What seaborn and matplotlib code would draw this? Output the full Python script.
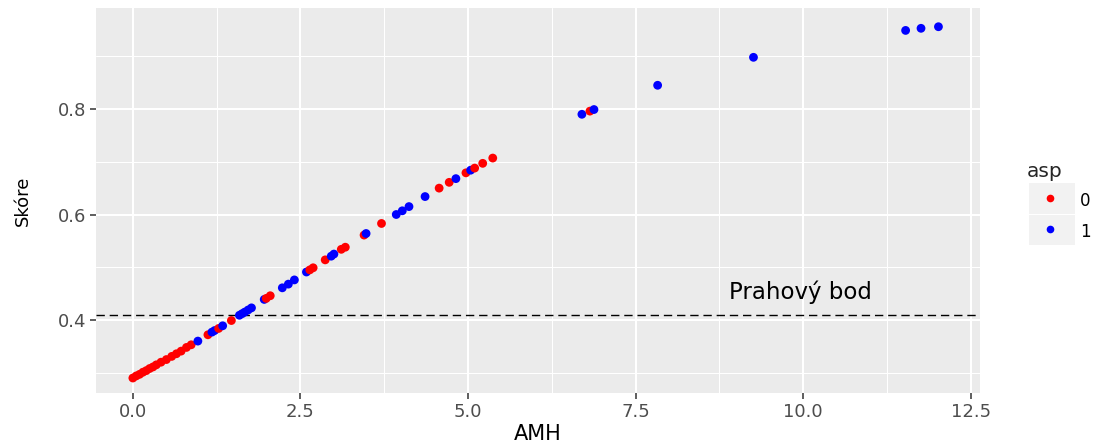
import matplotlib
matplotlib.use("Agg")
import matplotlib.pyplot as plt
import seaborn as sns
import pandas as pd
from matplotlib.ticker import FixedLocator
from matplotlib.patches import Rectangle
from matplotlib.lines import Line2D

# ---- data ----
amh = [0.00, 0.05, 0.10, 0.15, 0.20, 0.25, 0.30, 0.35, 0.42, 0.50, 0.58, 0.65, 0.72, 0.80, 0.87,
       0.97, 1.12, 1.18, 1.22, 1.28, 1.34, 1.47, 1.59, 1.63, 1.67, 1.72, 1.77,
       1.96, 1.99, 2.05, 2.23, 2.32, 2.41, 2.59, 2.64, 2.69, 2.87, 2.96, 3.00, 3.11, 3.17,
       3.45, 3.48, 3.71, 3.93, 4.02, 4.12, 4.36, 4.57, 4.72, 4.82, 4.97, 5.04, 5.10, 5.22, 5.37,
       6.70, 6.82, 6.88, 7.83, 9.26, 11.53, 11.76, 12.02]
skore = [0.290, 0.294, 0.297, 0.301, 0.304, 0.308, 0.311, 0.315, 0.320, 0.325, 0.331, 0.336, 0.341, 0.348, 0.353,
         0.360, 0.372, 0.377, 0.380, 0.384, 0.389, 0.399, 0.409, 0.412, 0.415, 0.419, 0.423,
         0.439, 0.441, 0.446, 0.461, 0.468, 0.476, 0.491, 0.495, 0.499, 0.514, 0.521, 0.525, 0.534, 0.538,
         0.561, 0.564, 0.583, 0.600, 0.607, 0.615, 0.634, 0.650, 0.661, 0.668, 0.679, 0.684, 0.688, 0.697, 0.707,
         0.790, 0.796, 0.799, 0.845, 0.898, 0.949, 0.953, 0.956]
asp = ["0"] * 15 + \
      ["1", "0", "1", "1", "0", "1", "0", "1", "1", "1", "1", "1",
       "1", "0", "0", "1", "1", "1", "1", "0", "0", "0", "1", "1", "0", "0",
       "0", "1", "0", "1", "1", "1", "1", "0", "0", "1", "0", "1", "0", "0", "0",
       "1", "0", "1", "1", "1", "1", "1", "1"]
asp_levels = ["0", "1"]
asp_colors = ["red", "blue"]
threshold = 0.409
threshold_label = "Prahový bod"
x_ticks = [0.0, 2.5, 5.0, 7.5, 10.0, 12.5]
x_tick_labels = ["0.0", "2.5", "5.0", "7.5", "10.0", "12.5"]
y_ticks = [0.4, 0.6, 0.8]
y_tick_labels = ["0.4", "0.6", "0.8"]

df = pd.DataFrame({"AMH": amh, "Skore": skore, "asp": asp})

sns.set_theme(style="darkgrid")
plt.rcParams["font.family"] = ["DejaVu Sans"]

W, H = 1100, 447
fig = plt.figure(figsize=(W / 100, H / 100), dpi=100)
fig.patch.set_facecolor("white")
ax = fig.add_axes([96 / W, 1 - 393 / H, 884 / W, 385 / H])
ax.set_facecolor("#EBEBEB")
for s in ax.spines.values():
    s.set_visible(False)

sns.scatterplot(data=df, x="AMH", y="Skore", hue="asp", hue_order=asp_levels,
                palette=dict(zip(asp_levels, asp_colors)), s=40, linewidth=0,
                alpha=1.0, ax=ax, legend=False, zorder=3)

ax.axhline(threshold, color="black", lw=1.0, dashes=(6, 3.5), zorder=2)
ax.text(9.96, 0.440, threshold_label, ha="center", va="baseline", fontsize=16.5,
        color="black", zorder=4)

ax.set_xlim(-0.55, 12.64)
ax.set_ylim(0.2616, 0.9915)
ax.xaxis.set_major_locator(FixedLocator(x_ticks))
ax.set_xticklabels(x_tick_labels)
ax.yaxis.set_major_locator(FixedLocator(y_ticks))
ax.set_yticklabels(y_tick_labels)
ax.xaxis.set_minor_locator(FixedLocator([1.25, 3.75, 6.25, 8.75, 11.25]))
ax.yaxis.set_minor_locator(FixedLocator([0.3, 0.5, 0.7, 0.9]))
ax.grid(which="major", color="white", lw=1.5, zorder=0)
ax.grid(which="minor", color="white", lw=0.75, zorder=0)
ax.set_axisbelow(True)
ax.tick_params(which="major", length=4, width=1.1, color="#333333",
               labelsize=13, labelcolor="#4D4D4D", pad=3, bottom=True, left=True)
ax.tick_params(which="minor", length=0)

ax.set_xlabel("AMH", fontsize=15, color="black", labelpad=2)
ax.set_ylabel("Skóre", fontsize=13, color="black", labelpad=19)

# legend keys background (ggplot style)
for y0, y1 in [(183, 214), (215, 245)]:
    fig.patches.append(Rectangle((1029 / W, 1 - y1 / H), 46 / W, (y1 - y0) / H,
                                 transform=fig.transFigure, facecolor="#F2F2F2",
                                 edgecolor="none", zorder=-1))

handles = [Line2D([], [], linestyle="none", marker="o", markersize=5.5,
                  markerfacecolor=c, markeredgewidth=0) for c in asp_colors]
leg = ax.legend(handles, asp_levels, title="asp", loc="upper left",
                bbox_to_anchor=(1027 / W, 1 - 162 / H), bbox_transform=fig.transFigure,
                frameon=False, fontsize=12, title_fontsize=14.5, alignment="left",
                handlelength=2.75, handleheight=1.6, labelspacing=0.55,
                handletextpad=0.45, borderpad=0, borderaxespad=0)
for t in leg.get_texts():
    t.set_color("black")

fig.savefig("out.png", dpi=100)
